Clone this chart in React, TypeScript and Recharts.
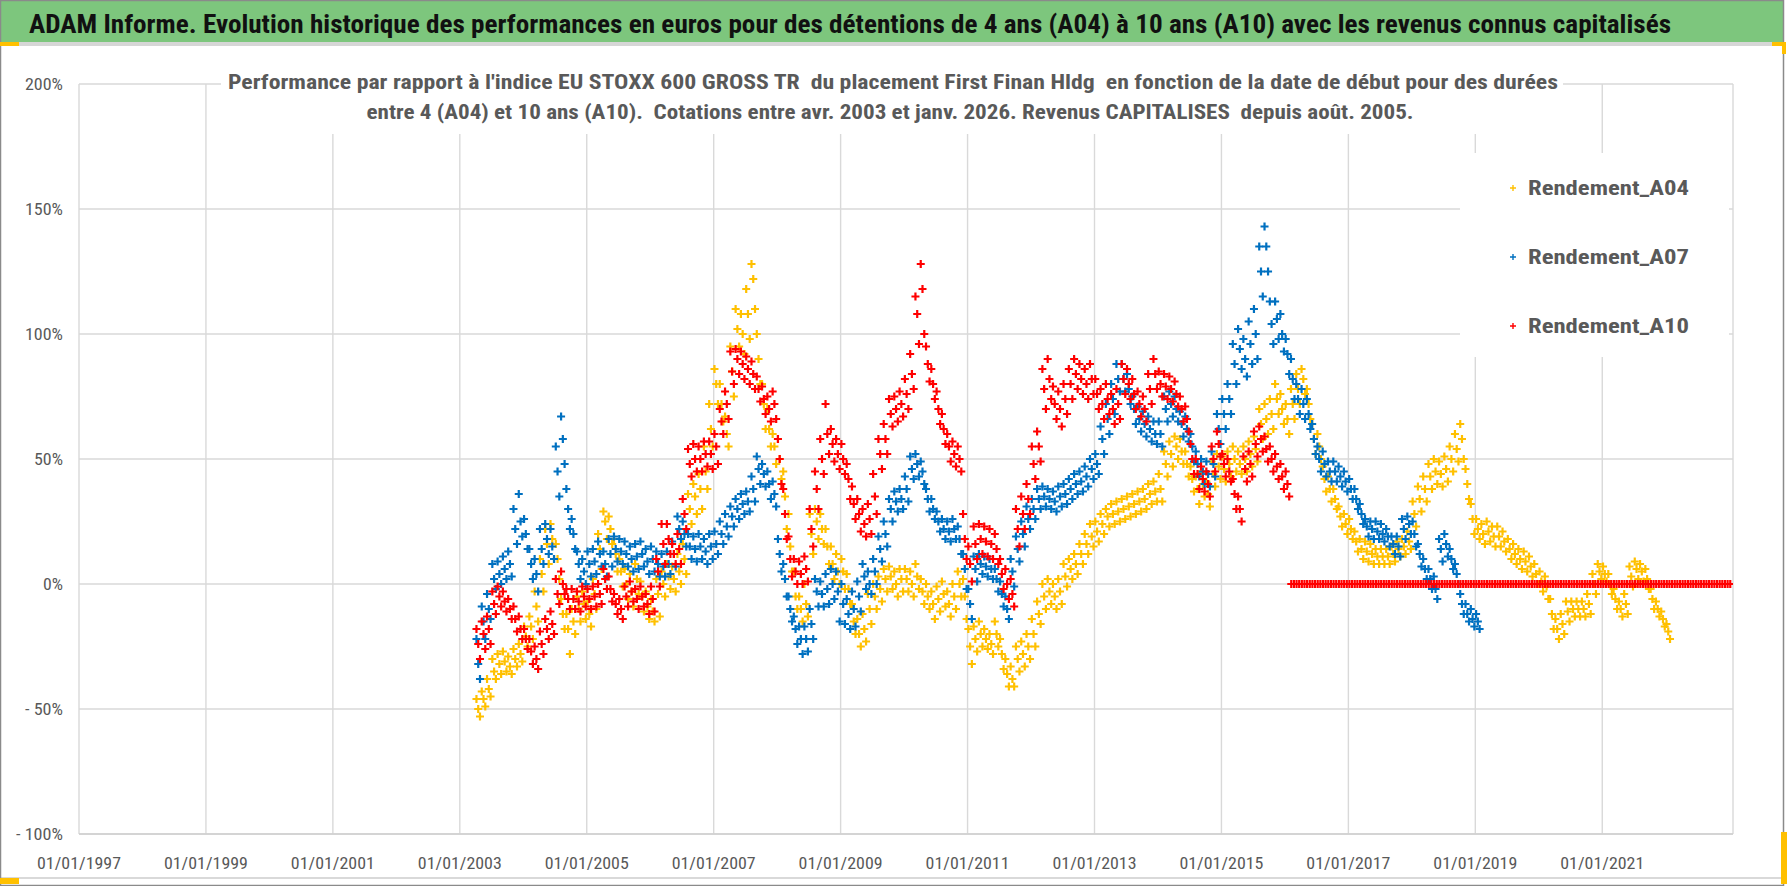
import { ScatterChart, Scatter, XAxis, YAxis, CartesianGrid } from "recharts";

const W = 1790;
const H = 886;
const FONT = "'Liberation Sans Narrow', 'Roboto Condensed', 'DejaVu Sans Condensed', Roboto, sans-serif";
const GREY_TXT = "#595959";

// Monthly start dates (decimal years), first quotation mid-April 2003
const START_MONTHLY = 2003.29;
// A10 after Jan 2016 is flat at 0, sampled twice a month
const START_A10_TAIL = 2016.1;

// Rendement_A04, % (avr. 2003 -> janv. 2022): middle, low and high of each month's cloud
const A04 = [
  -50, -46, -42, -35, -32, -31, -33, -30, -28, // 2003
  -21, -17, -9, 4, 16, 18, 10, -12, -18, -15, -10, -8, // 2004
  -12, -4, 14, 25, 22, 12, 5, 0, -3, 2, -5, -9, // 2005
  -11, -4, 0, 3, 2, 5, 10, 30, 35, 38, 45, 62, // 2006
  80, 72, 60, 85, 102, 100, 108, 122, 90, 72, 62, 55, // 2007
  50, 35, 15, -5, -10, -8, 20, 25, 22, 15, 8, 5, // 2008
  5, -2, -15, -20, -18, -10, -5, -2, 2, 3, 0, 2, // 2009
  2, 0, 3, -3, -5, -8, -6, -4, -8, -5, 0, -5, // 2010
  -25, -22, -20, -22, -24, -20, -28, -36, -38, -30, -28, -25, // 2011
  -20, -12, -5, -3, -5, -3, 3, 6, 8, 12, 16, 19, // 2012
  21, 24, 27, 28, 29, 30, 31, 32, 33, 34, 36, 37, // 2013
  38, 48, 52, 55, 53, 48, 42, 38, 40, 36, 44, 47, // 2014
  46, 48, 50, 48, 50, 52, 54, 64, 66, 68, 74, 70, // 2015
  66, 72, 78, 82, 72, 58, 55, 42, 38, 34, 27, 24, // 2016
  22, 17, 14, 13, 12, 11, 11, 11, 12, 14, 15, 17, // 2017
  28, 34, 38, 43, 45, 44, 46, 50, 54, 58, 40, 26, // 2018
  22, 20, 21, 19, 19, 17, 14, 12, 10, 9, 7, 4, // 2019
  1, -1, -12, -18, -16, -11, -10, -10, -10, -8, 0, 5, // 2020
  4, 0, -6, -10, -8, 3, 6, 5, 2, -6, -10, -14, // 2021
  -19, // 2022
];
const A04_LO = [
  -53, -49, -45, -38, -36, -35, -36, -33, -31, // 2003
  -25, -22, -15, -3, 8, 10, 2, -18, -28, -20, -15, -14, // 2004
  -17, -10, 6, 18, 16, 5, -1, -6, -9, -4, -11, -14, // 2005
  -15, -13, -5, -2, -3, 0, 4, 24, 28, 30, 38, 55, // 2006
  72, 65, 55, 75, 95, 92, 98, 110, 80, 62, 55, 48, // 2007
  42, 22, 5, -10, -15, -13, 12, 18, 16, 8, 2, 0, // 2008
  -2, -8, -20, -25, -23, -16, -10, -7, -3, -2, -5, -3, // 2009
  -3, -5, -2, -8, -10, -14, -11, -9, -13, -10, -5, -14, // 2010
  -32, -27, -25, -26, -28, -25, -34, -41, -41, -35, -33, -30, // 2011
  -25, -16, -10, -8, -10, -8, -1, 2, 4, 8, 12, 15, // 2012
  17, 20, 23, 24, 25, 26, 27, 28, 29, 30, 32, 33, // 2013
  33, 43, 47, 50, 48, 43, 37, 32, 35, 31, 39, 42, // 2014
  41, 43, 45, 44, 45, 47, 49, 58, 60, 62, 68, 64, // 2015
  60, 66, 72, 76, 66, 52, 50, 37, 33, 30, 23, 20, // 2016
  18, 13, 10, 9, 8, 8, 8, 8, 9, 11, 12, 14, // 2017
  23, 29, 33, 38, 40, 39, 41, 45, 49, 50, 34, 20, // 2018
  18, 16, 17, 15, 15, 13, 10, 8, 6, 5, 3, 0, // 2019
  -3, -6, -18, -22, -20, -15, -13, -13, -13, -12, -4, 2, // 2020
  1, -4, -10, -13, -12, -1, 2, 1, -2, -10, -13, -17, // 2021
  -22, // 2022
];
const A04_HI = [
  -46, -43, -38, -30, -28, -27, -29, -26, -24, // 2003
  -17, -13, -3, 10, 22, 24, 16, -6, -12, -10, -5, -3, // 2004
  -7, 2, 20, 29, 27, 18, 10, 6, 4, 8, 1, -3, // 2005
  -6, 2, 5, 8, 7, 12, 16, 36, 40, 44, 55, 72, // 2006
  86, 80, 67, 95, 110, 108, 118, 128, 100, 80, 70, 60, // 2007
  58, 45, 28, 5, -5, 0, 28, 30, 28, 22, 15, 12, // 2008
  10, 4, -8, -14, -12, -4, 0, 3, 6, 7, 5, 6, // 2009
  6, 5, 8, 2, 0, -3, -1, 1, -3, 0, 5, 2, // 2010
  -18, -17, -15, -18, -20, -15, -22, -30, -33, -25, -23, -20, // 2011
  -14, -7, 0, 2, 0, 2, 8, 10, 12, 16, 20, 24, // 2012
  25, 28, 30, 32, 33, 34, 35, 36, 37, 38, 40, 41, // 2013
  44, 53, 57, 59, 58, 53, 47, 43, 45, 41, 49, 52, // 2014
  51, 53, 55, 53, 55, 57, 59, 70, 72, 74, 80, 76, // 2015
  72, 78, 84, 86, 78, 64, 60, 47, 43, 38, 31, 28, // 2016
  26, 21, 18, 17, 16, 14, 14, 14, 15, 17, 18, 21, // 2017
  33, 39, 43, 48, 50, 49, 51, 55, 60, 64, 46, 32, // 2018
  26, 24, 25, 23, 23, 21, 18, 16, 14, 13, 11, 8, // 2019
  5, 3, -6, -14, -12, -7, -7, -7, -7, -4, 4, 8, // 2020
  7, 4, -2, -7, -4, 7, 9, 8, 6, -2, -7, -11, // 2021
  -16, // 2022
];

// Rendement_A07, % (avr. 2003 -> janv. 2019)
const A07 = [
  -32, -15, -10, 2, 4, 6, 8, 22, 25, // 2003
  20, 8, 4, 14, 18, 15, 45, 58, 30, 20, 8, 5, // 2004
  8, 9, 12, 8, 12, 14, 13, 12, 10, 11, 12, 9, // 2005
  10, 8, 7, 8, 12, 22, 20, 15, 14, 15, 13, 15, // 2006
  16, 20, 23, 27, 30, 32, 33, 38, 46, 44, 40, 36, // 2007
  12, 2, -10, -18, -22, -22, -16, -3, -4, -2, 0, -3, // 2008
  -8, -12, -10, -5, 3, 0, 5, 14, 20, 30, 33, 34, // 2009
  38, 46, 48, 45, 34, 30, 25, 22, 21, 22, 18, 6, // 2010
  -8, 6, 8, 7, 6, 2, -4, -10, 5, 14, 20, 26, // 2011
  30, 34, 35, 34, 33, 35, 36, 38, 40, 41, 43, 46, // 2012
  48, 58, 66, 74, 82, 82, 78, 70, 66, 64, 62, 60, // 2013
  60, 70, 72, 70, 64, 62, 55, 48, 45, 44, 48, 62, // 2014
  68, 74, 88, 94, 90, 96, 100, 125, 135, 104, 106, 100, // 2015
  92, 82, 74, 72, 68, 58, 50, 48, 45, 45, 43, 41, // 2016
  38, 34, 28, 23, 22, 21, 20, 19, 16, 15, 22, 24, // 2017
  20, 12, 6, 2, -2, 14, 16, 10, 4, -8, -12, -14, // 2018
  -15, // 2019
];
const A07_LO = [
  -38, -22, -14, -2, 0, 2, 3, 16, 19, // 2003
  14, 2, -3, 8, 12, 10, 35, 48, 22, 14, 2, 0, // 2004
  3, 4, 7, 3, 7, 9, 8, 7, 5, 6, 7, 4, // 2005
  5, 3, 3, 4, 7, 18, 15, 10, 9, 10, 8, 10, // 2006
  12, 16, 19, 23, 26, 28, 29, 33, 40, 39, 34, 31, // 2007
  5, -5, -15, -24, -28, -27, -22, -9, -9, -8, -6, -15, // 2008
  -16, -18, -17, -11, -2, -4, 0, 9, 15, 25, 29, 30, // 2009
  33, 42, 43, 40, 29, 26, 21, 18, 17, 18, 12, -2, // 2010
  -14, 1, 4, 3, 2, -3, -9, -14, -1, 9, 15, 22, // 2011
  26, 30, 31, 30, 29, 31, 32, 34, 36, 37, 39, 42, // 2012
  44, 52, 60, 68, 77, 77, 72, 64, 61, 59, 57, 56, // 2013
  55, 65, 67, 65, 59, 57, 49, 43, 40, 39, 43, 56, // 2014
  62, 68, 80, 86, 83, 88, 90, 115, 125, 96, 98, 93, // 2015
  84, 74, 68, 66, 62, 52, 45, 43, 41, 41, 39, 37, // 2016
  34, 30, 24, 19, 18, 18, 17, 15, 12, 11, 18, 20, // 2017
  15, 7, 2, -2, -6, 9, 11, 6, 0, -12, -15, -17, // 2018
  -18, // 2019
];
const A07_HI = [
  -22, -9, -4, 8, 9, 11, 13, 30, 36, // 2003
  26, 14, 10, 22, 24, 22, 55, 67, 38, 26, 13, 10, // 2004
  13, 14, 17, 13, 18, 19, 18, 17, 15, 16, 17, 14, // 2005
  15, 13, 12, 13, 17, 27, 25, 20, 19, 20, 18, 20, // 2006
  21, 25, 28, 31, 34, 36, 37, 43, 51, 48, 45, 41, // 2007
  18, 8, -5, -13, -17, -17, -10, 2, 1, 4, 6, 5, // 2008
  0, -6, -3, 1, 8, 5, 10, 19, 25, 34, 37, 38, // 2009
  43, 51, 52, 49, 38, 34, 29, 26, 25, 26, 23, 12, // 2010
  -2, 11, 12, 11, 10, 6, 1, -5, 10, 19, 25, 31, // 2011
  34, 38, 39, 38, 37, 39, 40, 42, 44, 45, 47, 50, // 2012
  52, 63, 72, 80, 88, 88, 84, 75, 71, 69, 67, 65, // 2013
  65, 75, 77, 75, 69, 67, 60, 53, 50, 49, 53, 68, // 2014
  74, 80, 96, 102, 98, 105, 110, 135, 143, 113, 113, 108, // 2015
  98, 90, 80, 78, 74, 64, 55, 53, 49, 49, 47, 45, // 2016
  42, 38, 32, 26, 25, 25, 24, 22, 19, 19, 26, 27, // 2017
  25, 16, 10, 6, 3, 18, 20, 14, 8, -4, -8, -10, // 2018
  -12, // 2019
];

// Rendement_A10, % (avr. 2003 -> janv. 2016)
const A10 = [
  -24, -20, -18, -8, -5, -7, -10, -14, -18, // 2003
  -22, -27, -30, -24, -18, -16, -4, 0, -6, -6, -7, -5, // 2004
  -6, -5, -4, 2, -2, -8, -10, -5, -3, -6, -5, -8, // 2005
  -6, 5, 16, 18, 12, 14, 28, 48, 50, 50, 52, 52, // 2006
  55, 65, 72, 85, 90, 88, 86, 84, 78, 74, 70, 72, // 2007
  50, 28, 10, 5, 4, 6, 22, 38, 50, 60, 56, 52, // 2008
  50, 42, 32, 28, 24, 26, 35, 52, 58, 68, 70, 72, // 2009
  76, 84, 108, 118, 88, 80, 70, 62, 55, 52, 50, 18, // 2010
  8, 16, 18, 17, 16, 14, 4, 0, -4, 22, 28, 34, // 2011
  48, 55, 78, 82, 72, 70, 74, 80, 84, 82, 80, 82, // 2012
  76, 72, 74, 70, 72, 82, 80, 76, 72, 70, 78, 84, // 2013
  80, 79, 78, 76, 70, 66, 50, 44, 42, 40, 50, 56, // 2014
  48, 45, 36, 30, 46, 48, 56, 58, 54, 50, 47, 43, // 2015
  40, // 2016
];
const A10_LO = [
  -30, -26, -24, -12, -9, -11, -14, -19, -22, // 2003
  -26, -32, -34, -28, -22, -20, -8, -4, -10, -10, -11, -9, // 2004
  -10, -9, -8, -2, -7, -12, -14, -9, -7, -10, -9, -12, // 2005
  -11, -1, 8, 12, 8, 8, 22, 43, 45, 45, 47, 46, // 2006
  48, 60, 66, 80, 84, 82, 80, 78, 73, 68, 65, 66, // 2007
  40, 18, 3, 0, 0, 1, 15, 30, 44, 52, 49, 46, // 2008
  44, 34, 26, 21, 19, 20, 28, 46, 52, 63, 65, 67, // 2009
  70, 78, 96, 100, 81, 74, 64, 56, 49, 47, 45, 10, // 2010
  1, 10, 12, 11, 10, 8, -2, -6, -9, 15, 22, 28, // 2011
  42, 49, 70, 74, 66, 63, 68, 74, 78, 76, 74, 76, // 2012
  70, 66, 68, 64, 66, 76, 74, 70, 67, 65, 72, 78, // 2013
  75, 74, 73, 71, 65, 61, 44, 38, 37, 35, 45, 51, // 2014
  43, 41, 30, 25, 41, 43, 51, 53, 49, 45, 42, 38, // 2015
  35, // 2016
];
const A10_HI = [
  -18, -15, -13, -3, -1, -3, -6, -9, -13, // 2003
  -18, -22, -25, -19, -14, -11, 2, 5, -2, -2, -3, -1, // 2004
  -2, -1, 0, 6, 3, -4, -6, -1, 1, -2, -1, -4, // 2005
  -1, 10, 24, 24, 16, 20, 34, 54, 56, 55, 57, 57, // 2006
  60, 70, 77, 93, 94, 93, 91, 89, 83, 79, 75, 77, // 2007
  58, 38, 19, 10, 9, 11, 30, 45, 58, 72, 62, 58, // 2008
  56, 48, 39, 34, 30, 32, 44, 58, 64, 74, 75, 77, // 2009
  82, 92, 115, 128, 95, 86, 77, 68, 60, 57, 55, 28, // 2010
  15, 23, 24, 23, 22, 20, 10, 6, 2, 30, 35, 40, // 2011
  55, 61, 86, 90, 79, 77, 80, 86, 90, 88, 86, 88, // 2012
  82, 78, 80, 76, 78, 88, 86, 82, 77, 75, 84, 90, // 2013
  85, 84, 83, 81, 75, 71, 56, 50, 47, 45, 55, 61, // 2014
  52, 50, 42, 35, 51, 53, 61, 63, 59, 55, 52, 48, // 2015
  45, // 2016
];

// A10 tail, two values per month (févr. 2016 -> janv. 2023)
const A10_TAIL = [
  0, 0, 0, 0, 0, 0, 0, 0, 0, 0, 0, 0, 0, 0, 0, 0, 0, 0, 0, 0, 0, 0, 0, 0,
  0, 0, 0, 0, 0, 0, 0, 0, 0, 0, 0, 0, 0, 0, 0, 0, 0, 0, 0, 0, 0, 0, 0, 0,
  0, 0, 0, 0, 0, 0, 0, 0, 0, 0, 0, 0, 0, 0, 0, 0, 0, 0, 0, 0, 0, 0, 0, 0,
  0, 0, 0, 0, 0, 0, 0, 0, 0, 0, 0, 0, 0, 0, 0, 0, 0, 0, 0, 0, 0, 0, 0, 0,
  0, 0, 0, 0, 0, 0, 0, 0, 0, 0, 0, 0, 0, 0, 0, 0, 0, 0, 0, 0, 0, 0, 0, 0,
  0, 0, 0, 0, 0, 0, 0, 0, 0, 0, 0, 0, 0, 0, 0, 0, 0, 0, 0, 0, 0, 0, 0, 0,
  0, 0, 0, 0, 0, 0, 0, 0, 0, 0, 0, 0, 0, 0, 0, 0, 0, 0, 0, 0, 0, 0, 0,
];

const X_TICKS = [1997, 1999, 2001, 2003, 2005, 2007, 2009, 2011, 2013, 2015, 2017, 2019, 2021];
const Y_TICKS = [-100, -50, 0, 50, 100, 150, 200];

const SERIES = [
  { name: "Rendement_A04", color: "#FFC000" },
  { name: "Rendement_A07", color: "#0070C0" },
  { name: "Rendement_A10", color: "#FF0000" },
];

const MONTH = 1 / 12;

const toPoints = (values: number[], start: number, step: number) =>
  values.map((v, i) => ({ x: start + i * step, y: v }));

// middle of the month plus the low / high edge of that month's cloud
const monthly = (mid: number[], lo: number[], hi: number[]) => [
  ...toPoints(hi, START_MONTHLY - MONTH / 3, MONTH),
  ...toPoints(lo, START_MONTHLY + MONTH / 3, MONTH),
  ...toPoints(mid, START_MONTHLY, MONTH),
];

const a04 = monthly(A04, A04_LO, A04_HI);
const a07 = monthly(A07, A07_LO, A07_HI);
const a10 = [...monthly(A10, A10_LO, A10_HI), ...toPoints(A10_TAIL, START_A10_TAIL, MONTH / 2)];

const plus = (color: string) => (props: any) => {
  const { cx, cy } = props;
  if (cx == null || cy == null) return <g />;
  const h = 4;
  return (
    <path
      d={`M${cx - h},${cy}H${cx + h}M${cx},${cy - h}V${cy + h}`}
      stroke={color}
      strokeWidth={2.2}
      fill="none"
    />
  );
};

const yLabel = (v: number) => (v < 0 ? `- ${Math.abs(v)}%` : `${v}%`);
// label widths (narrow font)
const Y_LABEL_W: Record<number, number> = {
  200: 38, 150: 38, 100: 38, 50: 29, 0: 20, [-50]: 38, [-100]: 47,
};

function YTick(props: any) {
  const v = props.payload.value;
  return (
    <text
      x={63}
      y={props.y + 6}
      textAnchor="end"
      fontFamily={FONT}
      fontSize={17}
      fill={GREY_TXT}
      textLength={Y_LABEL_W[v]}
      lengthAdjust="spacingAndGlyphs"
    >
      {yLabel(v)}
    </text>
  );
}

function XTick(props: any) {
  return (
    <text
      x={props.x}
      y={869}
      textAnchor="middle"
      fontFamily={FONT}
      fontSize={17}
      fill={GREY_TXT}
      textLength={84}
      lengthAdjust="spacingAndGlyphs"
    >
      {`01/01/${props.payload.value}`}
    </text>
  );
}

export default function App() {
  return (
    <div style={{ position: "absolute", left: 0, top: 0, width: W, height: H, background: "#fff", overflow: "hidden" }}>
      <ScatterChart
        width={W}
        height={H}
        margin={{ top: 84, right: 57, bottom: 12, left: 0 }}
        style={{ position: "absolute", left: 0, top: 0 }}
      >
        <CartesianGrid stroke="#d9d9d9" strokeWidth={1.4} />
        <XAxis
          type="number"
          dataKey="x"
          domain={[1997, 2023.06]}
          ticks={X_TICKS}
          interval={0}
          allowDataOverflow
          tick={(p: any) => <XTick {...p} />}
          tickLine={false}
          axisLine={{ stroke: "#cfcfcf", strokeWidth: 1.6 }}
          height={40}
        />
        <YAxis
          type="number"
          dataKey="y"
          domain={[-100, 200]}
          ticks={Y_TICKS}
          interval={0}
          tick={(p: any) => <YTick {...p} />}
          tickLine={false}
          axisLine={false}
          width={79}
        />
        <Scatter name={SERIES[0].name} data={a04} shape={plus(SERIES[0].color)} isAnimationActive={false} />
        <Scatter name={SERIES[1].name} data={a07} shape={plus(SERIES[1].color)} isAnimationActive={false} />
        <Scatter name={SERIES[2].name} data={a10} shape={plus(SERIES[2].color)} isAnimationActive={false} />
      </ScatterChart>

      <svg width={W} height={H} style={{ position: "absolute", left: 0, top: 0, pointerEvents: "none" }}>
        {/* header band */}
        <rect x={0} y={0} width={1784} height={42} fill="#7DC67D" />
        <rect x={0} y={42} width={1784} height={4} fill="#d6d6d6" />
        <text
          x={29}
          y={33}
          fontFamily={FONT}
          fontSize={25}
          fontWeight="bold"
          fill="#111"
          textLength={1642}
          lengthAdjust="spacingAndGlyphs"
        >
          ADAM Informe. Evolution historique des performances en euros pour des détentions de 4 ans (A04) à 10 ans (A10) avec les revenus connus capitalisés
        </text>

        {/* subtitle box */}
        <rect x={221} y={68} width={1342} height={66} fill="#fff" />
        <text
          x={893}
          y={89}
          textAnchor="middle"
          fontFamily={FONT}
          fontSize={21}
          fontWeight="bold"
          fill={GREY_TXT}
          textLength={1330}
          lengthAdjust="spacingAndGlyphs"
          style={{ whiteSpace: "pre" }}
        >
          {"Performance par rapport à l'indice EU STOXX 600 GROSS TR  du placement First Finan Hldg  en fonction de la date de début pour des durées"}
        </text>
        <text
          x={890}
          y={119}
          textAnchor="middle"
          fontFamily={FONT}
          fontSize={21}
          fontWeight="bold"
          fill={GREY_TXT}
          textLength={1047}
          lengthAdjust="spacingAndGlyphs"
          style={{ whiteSpace: "pre" }}
        >
          {"entre 4 (A04) et 10 ans (A10).  Cotations entre avr. 2003 et janv. 2026. Revenus CAPITALISES  depuis août. 2005."}
        </text>

        {/* legend */}
        <rect x={1460} y={153} width={269} height={204} fill="#fff" />
        {SERIES.map((s, i) => {
          const cy = 188 + i * 69;
          return (
            <g key={s.name}>
              <path d={`M${1510},${cy}H${1516}M${1513},${cy - 3}V${cy + 3}`} stroke={s.color} strokeWidth={1.4} />
              <text
                x={1528}
                y={cy + 7}
                fontFamily={FONT}
                fontSize={20}
                fontWeight="bold"
                fill={GREY_TXT}
                textLength={161}
                lengthAdjust="spacingAndGlyphs"
              >
                {s.name}
              </text>
            </g>
          );
        })}

        {/* frame */}
        <rect x={0} y={877} width={1784} height={2} fill="#d9d9d9" />
        <rect x={0.5} y={0.5} width={1783} height={885} fill="none" stroke="#8a8a8a" strokeWidth={1.5} />
        <rect x={0} y={42} width={19} height={4} fill="#FFC000" />
        <rect x={0} y={878} width={19} height={6} fill="#FFC000" />
        <rect x={1772} y={42} width={14} height={4} fill="#FFC000" />
        <rect x={1782} y={42} width={4} height={12} fill="#FFC000" />
        <rect x={1781} y={832} width={6} height={52} fill="#FFC000" />
      </svg>
    </div>
  );
}
